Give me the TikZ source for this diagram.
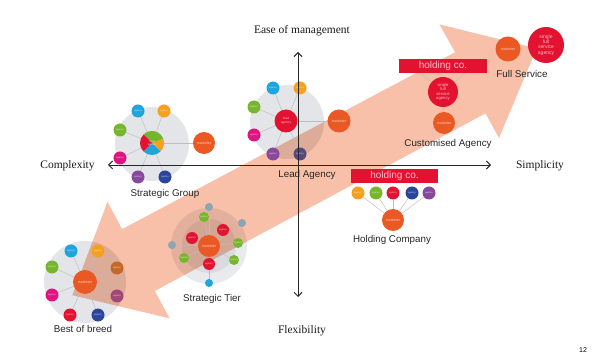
\documentclass[tikz,border=0pt]{standalone}
\usepackage{fontspec}
\setmainfont{Liberation Serif}
\setsansfont{Liberation Sans}
\usetikzlibrary{arrows.meta}
\pgfdeclarelayer{arrowl}
\pgfdeclarelayer{hubl}
\pgfdeclarelayer{spokel}
\pgfdeclarelayer{topl}
\pgfsetlayers{arrowl,hubl,spokel,main,topl}
\definecolor{salmonc}{RGB}{248,192,168}
\definecolor{hubgray}{RGB}{228,229,233}
\definecolor{mktc}{RGB}{234,88,36}
\definecolor{agred}{RGB}{226,18,48}
\definecolor{cyanag}{RGB}{32,164,220}
\definecolor{orag}{RGB}{245,160,30}
\definecolor{grag}{RGB}{118,182,44}
\definecolor{magag}{RGB}{222,20,128}
\definecolor{purag}{RGB}{136,72,158}
\definecolor{navag}{RGB}{42,70,155}
\definecolor{dorag}{RGB}{196,104,40}
\definecolor{plumag}{RGB}{162,70,118}
\definecolor{slateag}{RGB}{88,72,130}
\definecolor{bluegr}{RGB}{140,165,178}
\definecolor{spokec}{RGB}{188,188,194}
\tikzset{
  satn/.style={circle, inner sep=0pt, minimum size=13pt, text=white, text opacity=0.75, font=\sffamily\fontsize{2.4}{3}\selectfont},
  mktn/.style={circle, inner sep=0pt, fill=mktc, minimum size=22pt, text=white, text opacity=0.7, font=\sffamily\fontsize{3.6}{4}\selectfont},
  agcn/.style={circle, inner sep=0pt, fill=agred, text=white, text opacity=0.7, align=center},
  hubn/.style={circle, inner sep=0pt, fill=hubgray},
  spk/.style={draw=spokec, line width=0.45pt},
  lbl/.style={font=\sffamily\fontsize{9.8}{11}\selectfont, text=black!85},
  axlbl/.style={font=\fontsize{11.5}{13}\selectfont, text=black!90},
  axln/.style={draw=black!85, line width=0.9pt, arrows={Straight Barb[length=4pt,width=8pt]-Straight Barb[length=4pt,width=8pt]}},
  barn/.style={rectangle, fill=agred, inner sep=0pt, minimum height=14pt, text=white, text opacity=0.75, font=\sffamily\fontsize{10}{12}\selectfont},
}
\begin{document}
\begin{tikzpicture}[x=1pt,y=-1pt]
\useasboundingbox (0,0) rectangle (600,363);

% big double-headed arrow
\begin{pgfonlayer}{arrowl}
\fill[salmonc] (72.3,295.2) -- (107.5,201.7) -- (122.1,229.1) -- (455.1,52.3) -- (439.5,24.4) -- (536.7,48.5) -- (499.0,138.0) -- (485.4,113.4) -- (154.9,290.9) -- (169.5,318.3) -- cycle;
\end{pgfonlayer}

% hubs
\begin{pgfonlayer}{hubl}
\begin{scope}[blend mode=multiply]
\node[hubn, minimum size=74pt] (sgHub) at (152,144) {};
\node[hubn, minimum size=74pt] (laHub) at (287,122) {};
\node[hubn, minimum size=82pt] (bbHub) at (85,282) {};
\node[hubn, minimum size=76pt, fill opacity=0.8] (stHub) at (209,246) {};
\node[hubn, minimum size=54pt, fill opacity=0.6] (stHubIn) at (209,246) {};
\end{scope}
\end{pgfonlayer}

% ---- Strategic Group
\node[circle, minimum size=24pt, inner sep=0pt] (sgC) at (152,143) {};
\fill[grag] (sgC.center) -- ++(225:12) arc[start angle=225,end angle=340,radius=12] -- cycle;
\fill[orag] (sgC.center) -- ++(340:12) arc[start angle=340,end angle=405,radius=12] -- cycle;
\fill[cyanag] (sgC.center) -- ++(45:12) arc[start angle=45,end angle=135,radius=12] -- cycle;
\fill[agred] (sgC.center) -- ++(135:12) arc[start angle=135,end angle=225,radius=12] -- cycle;
\node[text=white, text opacity=0.75, font=\sffamily\fontsize{2.6}{3}\selectfont, align=center] (sgCt) at (sgC.center) {lead\\agency};
\node[satn, fill=cyanag] (sg1) at (138,111) {agency};
\node[satn, fill=orag] (sg2) at (164,111) {agency};
\node[satn, fill=grag] (sg3) at (120,130) {agency};
\node[satn, fill=magag] (sg4) at (120,158) {agency};
\node[satn, fill=purag] (sg5) at (138,177) {agency};
\node[satn, fill=navag] (sg6) at (165,177) {agency};
\node[mktn] (sgM) at (204,143) {marketer};
\node[lbl] (sgL) at (165,194) {Strategic Group};
\begin{pgfonlayer}{spokel}
\foreach \s in {sg1,sg2,sg3,sg4,sg5,sg6,sgM} \draw[spk] (sgC) -- (\s);
\end{pgfonlayer}

% ---- Lead Agency
\node[agcn, minimum size=23pt, font=\sffamily\fontsize{3.2}{3.8}\selectfont] (laC) at (286,121) {lead\\agency};
\node[satn, fill=cyanag] (la1) at (273,88) {agency};
\node[satn, fill=orag] (la2) at (300,88) {agency};
\node[satn, fill=grag] (la3) at (254,107) {agency};
\node[satn, fill=magag] (la4) at (254,135) {agency};
\node[satn, fill=purag] (la5) at (273,154) {agency};
\node[satn, fill=slateag] (la6) at (300,154) {agency};
\node[mktn, minimum size=23pt] (laM) at (339,121) {marketer};
\node[lbl] (laL) at (307,175) {Lead Agency};
\begin{pgfonlayer}{spokel}
\foreach \s in {la1,la2,la3,la4,la5,la6,laM} \draw[spk] (laC) -- (\s);
\end{pgfonlayer}

% ---- Customised Agency
\node[barn, minimum width=88pt] (caBar) at (443,66) {holding co.};
\node[agcn, minimum size=30pt, font=\sffamily\fontsize{4.2}{4.6}\selectfont] (caA) at (443,92) {single\\full\\service\\agency};
\node[mktn] (caM) at (444,123) {marketer};
\node[lbl] (caL) at (448,144) {Customised Agency};
\begin{pgfonlayer}{spokel}
\draw[spk] ([xshift=-22pt]caBar.south) -- (caA);
\draw[spk] ([xshift=22pt]caBar.south) -- (caA);
\draw[spk] (caA) -- (caM);
\end{pgfonlayer}

% ---- Full Service
\node[mktn, minimum size=25pt] (fsM) at (508,49) {marketer};
\node[agcn, minimum size=36pt, font=\sffamily\fontsize{5}{5.4}\selectfont] (fsA) at (546,45) {single\\full\\service\\agency};
\node[lbl] (fsL) at (522,74) {Full Service};

% ---- Holding Company
\node[barn, minimum width=87pt] (hcBar) at (394.5,176) {holding co.};
\node[satn, fill=orag] (hc1) at (358,193) {agency};
\node[satn, fill=grag] (hc2) at (376,193) {agency};
\node[satn, fill=agred] (hc3) at (393,193) {agency};
\node[satn, fill=navag] (hc4) at (412,193) {agency};
\node[satn, fill=purag] (hc5) at (429,193) {agency};
\node[mktn] (hcM) at (393,220) {marketer};
\node[lbl] (hcL) at (392,240) {Holding Company};
\begin{pgfonlayer}{spokel}
\foreach \s in {hc1,hc2,hc3,hc4,hc5} \draw[spk] (hcM) -- (\s);
\end{pgfonlayer}

% ---- Strategic Tier
\node[mktn] (stM) at (209,246) {marketer};
\node[satn, fill=agred, minimum size=12pt] (st1) at (192,238) {agency};
\node[satn, fill=agred, minimum size=12pt] (st2) at (223,230) {agency};
\node[satn, fill=agred, minimum size=12pt] (st3) at (209,264) {agency};
\node[satn, fill=grag, minimum size=10pt] (st4) at (204,217) {agency};
\node[satn, fill=grag, minimum size=10pt] (st5) at (238,243) {agency};
\node[satn, fill=grag, minimum size=10pt] (st6) at (234,260) {agency};
\node[satn, fill=grag, minimum size=10pt] (st7) at (184,258) {agency};
\node[satn, fill=bluegr, minimum size=8pt] (st8) at (209,207) {};
\node[satn, fill=bluegr, minimum size=8pt] (st9) at (242,223) {};
\node[satn, fill=bluegr, minimum size=8pt] (st10) at (172,245) {};
\node[satn, fill=cyanag, minimum size=8pt] (st11) at (209,283) {};
\node[lbl] (stL) at (212,299) {Strategic Tier};
\begin{pgfonlayer}{spokel}
\foreach \s in {st1,st2,st3,st4,st5,st6,st7,st8,st9,st10,st11} \draw[spk] (stM) -- (\s);
\end{pgfonlayer}

% ---- Best of breed
\node[mktn, minimum size=24pt] (bbM) at (85,282) {marketer};
\node[satn, fill=cyanag] (bb1) at (71,251) {agency};
\node[satn, fill=orag] (bb2) at (98,251) {agency};
\node[satn, fill=grag] (bb3) at (52,267) {agency};
\node[satn, fill=dorag] (bb4) at (117,268) {agency};
\node[satn, fill=magag] (bb5) at (52,295) {agency};
\node[satn, fill=plumag] (bb6) at (117,296) {agency};
\node[satn, fill=agred] (bb7) at (70,315) {agency};
\node[satn, fill=navag] (bb8) at (98,315) {agency};
\node[lbl] (bbL) at (83,329) {Best of breed};
\begin{pgfonlayer}{spokel}
\foreach \s in {bb1,bb2,bb3,bb4,bb5,bb6,bb7,bb8} \draw[spk] (bbM) -- (\s);
\end{pgfonlayer}

% ---- axes
\coordinate (axL) at (108,165);
\coordinate (axR) at (491,165);
\coordinate (axT) at (298,52);
\coordinate (axB) at (298,297);
\begin{pgfonlayer}{topl}
\draw[axln] (axL) -- (axR);
\draw[axln] (axT) -- (axB);
\end{pgfonlayer}
\node[axlbl] (tEase) at (302,31) {Ease of management};
\node[axlbl] (tComp) at (67.5,166) {Complexity};
\node[axlbl] (tSimp) at (540,166) {Simplicity};
\node[axlbl] (tFlex) at (302,331) {Flexibility};
\node[font=\sffamily\fontsize{7}{8}\selectfont] (pg) at (583,350) {12};
\end{tikzpicture}
\end{document}
